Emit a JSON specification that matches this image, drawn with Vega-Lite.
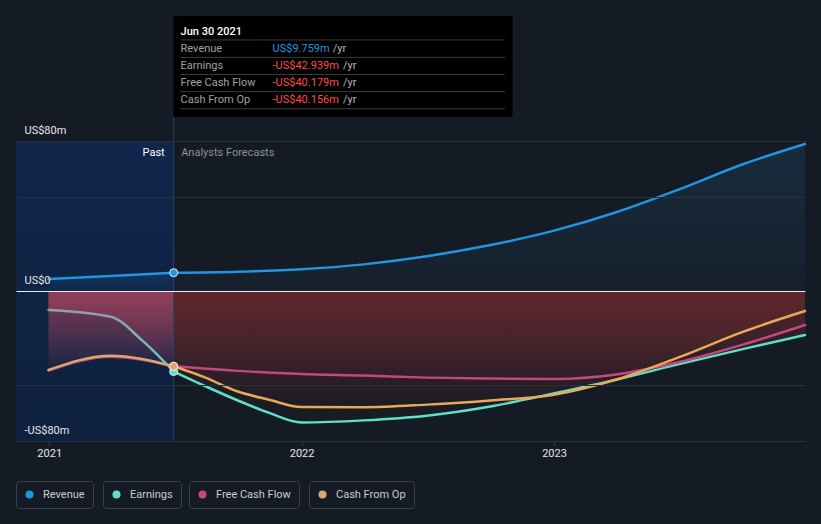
{
  "$schema": "https://vega.github.io/schema/vega-lite/v6.json",
  "width": 789,
  "height": 300,
  "autosize": "none",
  "padding": {"left": 16, "top": 141, "right": 16, "bottom": 83},
  "background": "#151b24",
  "config": {
    "view": {"stroke": null},
    "font": "Roboto",
    "legend": {
      "orient": "none",
      "direction": "horizontal",
      "padding": 8,
      "strokeColor": "#3b414b",
      "cornerRadius": 3,
      "labelColor": "#c8cbd0",
      "labelFont": "Roboto",
      "labelFontSize": 11,
      "symbolType": "circle",
      "symbolSize": 64,
      "symbolStrokeWidth": 0,
      "labelOffset": 8
    }
  },
  "datasets": {
    "series": [
      {"s": "Revenue", "p": "past", "d": "2020-12-31", "v": 6.4},
      {"s": "Revenue", "p": "past", "d": "2021-03-31", "v": 8.0},
      {"s": "Revenue", "p": "past", "d": "2021-06-30", "v": 9.759},
      {"s": "Revenue", "p": "forecast", "d": "2021-06-30", "v": 9.759},
      {"s": "Revenue", "p": "forecast", "d": "2021-10-01", "v": 10.3},
      {"s": "Revenue", "p": "forecast", "d": "2022-01-01", "v": 11.6},
      {"s": "Revenue", "p": "forecast", "d": "2022-04-01", "v": 14.2},
      {"s": "Revenue", "p": "forecast", "d": "2022-07-01", "v": 18.5},
      {"s": "Revenue", "p": "forecast", "d": "2022-10-01", "v": 24.5},
      {"s": "Revenue", "p": "forecast", "d": "2023-01-01", "v": 32.2},
      {"s": "Revenue", "p": "forecast", "d": "2023-04-01", "v": 42.0},
      {"s": "Revenue", "p": "forecast", "d": "2023-07-01", "v": 54.2},
      {"s": "Revenue", "p": "forecast", "d": "2023-10-01", "v": 67.6},
      {"s": "Revenue", "p": "forecast", "d": "2023-12-30", "v": 78.4},
      {"s": "Earnings", "p": "past", "d": "2020-12-31", "v": -10.1},
      {"s": "Earnings", "p": "past", "d": "2021-03-31", "v": -13.7},
      {"s": "Earnings", "p": "past", "d": "2021-05-15", "v": -26.2},
      {"s": "Earnings", "p": "past", "d": "2021-06-30", "v": -42.939},
      {"s": "Earnings", "p": "forecast", "d": "2021-06-30", "v": -42.939},
      {"s": "Earnings", "p": "forecast", "d": "2021-08-15", "v": -50.8},
      {"s": "Earnings", "p": "forecast", "d": "2021-10-01", "v": -58.4},
      {"s": "Earnings", "p": "forecast", "d": "2021-11-15", "v": -65.0},
      {"s": "Earnings", "p": "forecast", "d": "2022-01-01", "v": -70.1},
      {"s": "Earnings", "p": "forecast", "d": "2022-04-01", "v": -69.0},
      {"s": "Earnings", "p": "forecast", "d": "2022-07-01", "v": -66.5},
      {"s": "Earnings", "p": "forecast", "d": "2022-10-01", "v": -61.6},
      {"s": "Earnings", "p": "forecast", "d": "2023-01-01", "v": -54.6},
      {"s": "Earnings", "p": "forecast", "d": "2023-04-01", "v": -47.3},
      {"s": "Earnings", "p": "forecast", "d": "2023-07-01", "v": -39.0},
      {"s": "Earnings", "p": "forecast", "d": "2023-10-01", "v": -31.0},
      {"s": "Earnings", "p": "forecast", "d": "2023-12-30", "v": -23.5},
      {"s": "Free Cash Flow", "p": "past", "d": "2020-12-31", "v": -42.5},
      {"s": "Free Cash Flow", "p": "past", "d": "2021-03-31", "v": -35.0},
      {"s": "Free Cash Flow", "p": "past", "d": "2021-06-30", "v": -40.179},
      {"s": "Free Cash Flow", "p": "forecast", "d": "2021-06-30", "v": -40.179},
      {"s": "Free Cash Flow", "p": "forecast", "d": "2021-10-01", "v": -42.6},
      {"s": "Free Cash Flow", "p": "forecast", "d": "2022-01-01", "v": -44.3},
      {"s": "Free Cash Flow", "p": "forecast", "d": "2022-04-01", "v": -45.1},
      {"s": "Free Cash Flow", "p": "forecast", "d": "2022-07-01", "v": -46.2},
      {"s": "Free Cash Flow", "p": "forecast", "d": "2022-10-01", "v": -46.7},
      {"s": "Free Cash Flow", "p": "forecast", "d": "2023-01-01", "v": -46.9},
      {"s": "Free Cash Flow", "p": "forecast", "d": "2023-04-01", "v": -44.5},
      {"s": "Free Cash Flow", "p": "forecast", "d": "2023-07-01", "v": -37.9},
      {"s": "Free Cash Flow", "p": "forecast", "d": "2023-10-01", "v": -28.6},
      {"s": "Free Cash Flow", "p": "forecast", "d": "2023-12-30", "v": -18.1},
      {"s": "Cash From Op", "p": "past", "d": "2020-12-31", "v": -42.1},
      {"s": "Cash From Op", "p": "past", "d": "2021-03-31", "v": -34.5},
      {"s": "Cash From Op", "p": "past", "d": "2021-06-30", "v": -40.156},
      {"s": "Cash From Op", "p": "forecast", "d": "2021-06-30", "v": -40.156},
      {"s": "Cash From Op", "p": "forecast", "d": "2021-08-15", "v": -46.2},
      {"s": "Cash From Op", "p": "forecast", "d": "2021-10-01", "v": -53.6},
      {"s": "Cash From Op", "p": "forecast", "d": "2021-11-15", "v": -58.0},
      {"s": "Cash From Op", "p": "forecast", "d": "2022-01-01", "v": -61.9},
      {"s": "Cash From Op", "p": "forecast", "d": "2022-04-01", "v": -62.0},
      {"s": "Cash From Op", "p": "forecast", "d": "2022-07-01", "v": -60.6},
      {"s": "Cash From Op", "p": "forecast", "d": "2022-10-01", "v": -58.4},
      {"s": "Cash From Op", "p": "forecast", "d": "2023-01-01", "v": -55.3},
      {"s": "Cash From Op", "p": "forecast", "d": "2023-04-01", "v": -47.2},
      {"s": "Cash From Op", "p": "forecast", "d": "2023-07-01", "v": -35.3},
      {"s": "Cash From Op", "p": "forecast", "d": "2023-10-01", "v": -21.8},
      {"s": "Cash From Op", "p": "forecast", "d": "2023-12-30", "v": -10.7}
    ]
  },
  "data": {"name": "series"},
  "layer": [
    {
      "transform": [{"filter": "datum.s === 'Revenue' && datum.p === 'past' && time(datum.d) === utc(2021,5,30)"}],
      "mark": {
        "type": "rect",
        "fill": {"gradient": "linear", "x1": 0, "y1": 0, "x2": 0, "y2": 1, "stops": [{"offset": 0, "color": "#10264a"}, {"offset": 1, "color": "#0e213e"}]}
      },
      "encoding": {
        "x": {"datum": 1605312000000, "type": "temporal"},
        "x2": {"datum": 1625011200000},
        "y": {"datum": 80, "type": "quantitative"},
        "y2": {"datum": -80}
      }
    },
    {
      "transform": [{"filter": "datum.s === 'Revenue'"}],
      "mark": {
        "type": "area",
        "interpolate": "monotone",
        "opacity": 1,
        "fill": {"gradient": "linear", "x1": 0, "y1": 0, "x2": 0, "y2": 1, "stops": [{"offset": 0, "color": "rgba(35,148,223,0.14)"}, {"offset": 1, "color": "rgba(35,148,223,0.04)"}]}
      },
      "encoding": {
        "x": {
          "field": "d",
          "type": "temporal",
          "title": null,
          "scale": {"type": "utc", "domain": [1605312000000, 1703894400000]},
          "axis": {
            "values": [1609459200000, 1640995200000, 1672531200000],
            "format": "%Y",
            "formatType": "utc",
            "grid": false,
            "domainColor": "#3a414c",
            "tickColor": "#3a414c",
            "tickSize": 4,
            "labelPadding": 2,
            "labelColor": "#e6e6e6",
            "labelFont": "Roboto",
            "labelFontSize": 11,
            "labelFlush": false,
            "labelOverlap": false
          }
        },
        "y": {
          "field": "v",
          "type": "quantitative",
          "title": null,
          "scale": {"domain": [-80, 80], "nice": false, "zero": false},
          "axis": {
            "values": [-80, -50, 0, 50, 80],
            "domain": false,
            "ticks": false,
            "grid": true,
            "gridColor": {"condition": {"test": "datum.value === 0", "value": "#ececec"}, "value": "#2b313b"},
            "gridWidth": 1,
            "labelExpr": "datum.value === 0 ? 'US$0' : (datum.value === 80 ? 'US$80m' : (datum.value === -80 ? '-US$80m' : ''))",
            "labelAlign": "left",
            "labelBaseline": "alphabetic",
            "labelPadding": -8,
            "labelOffset": -8,
            "labelColor": "#e6e6e6",
            "labelFont": "Roboto",
            "labelFontSize": 11,
            "labelFlush": false,
            "labelOverlap": false,
            "labelBound": false,
            "zindex": 1
          }
        },
        "y2": {"datum": 0},
        "detail": {"field": "p"}
      }
    },
    {
      "transform": [{"filter": "datum.s !== 'Revenue' && datum.p === 'past'"}],
      "mark": {
        "type": "area",
        "interpolate": "monotone",
        "opacity": 1,
        "fill": {"gradient": "linear", "x1": 0, "y1": 0, "x2": 0, "y2": 1, "stops": [{"offset": 0, "color": "rgba(170,68,94,0.45)"}, {"offset": 1, "color": "rgba(170,68,94,0.02)"}]}
      },
      "encoding": {
        "x": {"field": "d", "type": "temporal"},
        "y": {"field": "v", "type": "quantitative"},
        "y2": {"datum": 0},
        "detail": {"field": "s"}
      }
    },
    {
      "transform": [{"filter": "datum.s !== 'Revenue' && datum.p === 'forecast'"}],
      "mark": {
        "type": "area",
        "interpolate": "monotone",
        "opacity": 1,
        "fill": {"gradient": "linear", "x1": 0, "y1": 0, "x2": 0, "y2": 1, "stops": [{"offset": 0, "color": "rgba(110,41,47,0.45)"}, {"offset": 1, "color": "rgba(110,41,47,0)"}]}
      },
      "encoding": {
        "x": {"field": "d", "type": "temporal"},
        "y": {"field": "v", "type": "quantitative"},
        "y2": {"datum": 0},
        "detail": {"field": "s"}
      }
    },
    {
      "transform": [{"filter": "datum.s === 'Revenue' && datum.p === 'past' && time(datum.d) === utc(2021,5,30)"}],
      "mark": {"type": "rule", "color": "#24446c", "strokeWidth": 1},
      "encoding": {
        "x": {"field": "d", "type": "temporal"},
        "y": {"datum": 92.8, "type": "quantitative"},
        "y2": {"datum": -80}
      }
    },
    {
      "transform": [{"filter": "datum.s === 'Revenue'"}],
      "mark": {"type": "line", "interpolate": "monotone", "color": "#2394df", "strokeWidth": 2.5, "strokeCap": "round"},
      "encoding": {
        "x": {"field": "d", "type": "temporal"},
        "y": {"field": "v", "type": "quantitative"},
        "detail": {"field": "p"}
      }
    },
    {
      "transform": [{"filter": "datum.s === 'Earnings' && datum.p === 'past'"}],
      "mark": {
        "type": "line",
        "interpolate": "monotone",
        "strokeWidth": 2.5,
        "strokeCap": "round",
        "stroke": {"gradient": "linear", "x1": 0, "y1": 0, "x2": 1, "y2": 0, "stops": [{"offset": 0, "color": "#959ca6"}, {"offset": 0.55, "color": "#8fa0ab"}, {"offset": 1, "color": "#62cdc2"}]}
      },
      "encoding": {
        "x": {"field": "d", "type": "temporal"},
        "y": {"field": "v", "type": "quantitative"}
      }
    },
    {
      "transform": [{"filter": "datum.s === 'Earnings' && datum.p === 'forecast'"}],
      "mark": {"type": "line", "interpolate": "monotone", "color": "#5ee0c8", "strokeWidth": 2.5, "strokeCap": "round"},
      "encoding": {
        "x": {"field": "d", "type": "temporal"},
        "y": {"field": "v", "type": "quantitative"}
      }
    },
    {
      "transform": [{"filter": "datum.s === 'Free Cash Flow'"}],
      "mark": {"type": "line", "interpolate": "monotone", "color": "#c4477f", "strokeWidth": 2.5, "strokeCap": "round"},
      "encoding": {
        "x": {"field": "d", "type": "temporal"},
        "y": {"field": "v", "type": "quantitative"},
        "detail": {"field": "p"}
      }
    },
    {
      "transform": [{"filter": "datum.s === 'Cash From Op' && datum.p === 'past'"}],
      "mark": {"type": "line", "interpolate": "monotone", "color": "#d9a76e", "strokeWidth": 2.5, "strokeCap": "round"},
      "encoding": {
        "x": {"field": "d", "type": "temporal"},
        "y": {"field": "v", "type": "quantitative"}
      }
    },
    {
      "transform": [{"filter": "datum.s === 'Cash From Op' && datum.p === 'forecast'"}],
      "mark": {"type": "line", "interpolate": "monotone", "color": "#e8a957", "strokeWidth": 2.5, "strokeCap": "round"},
      "encoding": {
        "x": {"field": "d", "type": "temporal"},
        "y": {"field": "v", "type": "quantitative"}
      }
    },
    {
      "transform": [{"filter": "datum.s === 'Revenue' && datum.p === 'past' && time(datum.d) === utc(2021,5,30)"}],
      "mark": {"type": "point", "filled": true, "size": 64, "opacity": 1, "stroke": "#e8eef5", "strokeWidth": 1},
      "encoding": {
        "x": {"field": "d", "type": "temporal"},
        "y": {"field": "v", "type": "quantitative"},
        "fill": {"field": "s", "type": "nominal", "scale": {"domain": ["Revenue"], "range": ["#2394df"]},
          "legend": {"title": null, "legendX": 0, "legendY": 340, "symbolFillColor": "#2394df"}}
      }
    },
    {
      "transform": [{"filter": "datum.s === 'Earnings' && datum.p === 'past' && time(datum.d) === utc(2021,5,30)"}],
      "mark": {"type": "point", "filled": true, "size": 64, "opacity": 1, "stroke": "#e8eef5", "strokeWidth": 1},
      "encoding": {
        "x": {"field": "d", "type": "temporal"},
        "y": {"field": "v", "type": "quantitative"},
        "color": {"field": "s", "type": "nominal", "scale": {"domain": ["Earnings"], "range": ["#5ee0c8"]},
          "legend": {"title": null, "legendX": 87, "legendY": 340, "symbolFillColor": "#5ee0c8"}}
      }
    },
    {
      "transform": [{"filter": "datum.s === 'Free Cash Flow' && datum.p === 'past' && time(datum.d) === utc(2021,5,30)"}],
      "mark": {"type": "point", "filled": true, "size": 64, "opacity": 1, "fill": "#c4477f", "strokeWidth": 1},
      "encoding": {
        "x": {"field": "d", "type": "temporal"},
        "y": {"field": "v", "type": "quantitative"},
        "stroke": {"field": "s", "type": "nominal", "scale": {"domain": ["Free Cash Flow"], "range": ["#e8eef5"]},
          "legend": {"title": null, "legendX": 173, "legendY": 340, "symbolFillColor": "#c4477f", "labelExpr": "datum.label + '\u00a0\u00a0'"}}
      }
    },
    {
      "transform": [{"filter": "datum.s === 'Cash From Op' && datum.p === 'past' && time(datum.d) === utc(2021,5,30)"}],
      "mark": {"type": "point", "filled": true, "size": 64, "opacity": 1, "fill": "#d9a76e", "stroke": "#e8eef5", "strokeWidth": 1},
      "encoding": {
        "x": {"field": "d", "type": "temporal"},
        "y": {"field": "v", "type": "quantitative"},
        "shape": {"field": "s", "type": "nominal", "scale": {"domain": ["Cash From Op"], "range": ["circle"]},
          "legend": {"title": null, "legendX": 293, "legendY": 340, "symbolFillColor": "#e8a957", "labelExpr": "datum.label + '\u00a0\u00a0'"}}
      }
    },
    {
      "transform": [{"filter": "datum.s === 'Revenue' && datum.p === 'past' && time(datum.d) === utc(2021,5,30)"}],
      "mark": {"type": "text", "text": "Past", "align": "right", "baseline": "middle", "dx": -9, "color": "#ffffff", "font": "Roboto", "fontSize": 11},
      "encoding": {
        "x": {"field": "d", "type": "temporal"},
        "y": {"datum": 73.6, "type": "quantitative"}
      }
    },
    {
      "transform": [{"filter": "datum.s === 'Revenue' && datum.p === 'past' && time(datum.d) === utc(2021,5,30)"}],
      "mark": {"type": "text", "text": "Analysts Forecasts", "align": "left", "baseline": "middle", "dx": 7.5, "color": "#8b9098", "font": "Roboto", "fontSize": 11},
      "encoding": {
        "x": {"field": "d", "type": "temporal"},
        "y": {"datum": 73.6, "type": "quantitative"}
      }
    },
    {
      "transform": [{"filter": "datum.s === 'Revenue' && datum.p === 'past' && time(datum.d) === utc(2021,5,30)"}],
      "mark": {"type": "rect", "fill": "#000000"},
      "encoding": {
        "x": {"field": "d", "type": "temporal"},
        "x2": {"datum": 1667347200000},
        "y": {"datum": 146.7, "type": "quantitative"},
        "y2": {"datum": 92.8}
      }
    },
    {
      "transform": [{"filter": "datum.s === 'Revenue' && datum.p === 'past' && time(datum.d) === utc(2021,5,30)"}],
      "mark": {"type": "rule", "color": "#3d3d3d", "strokeWidth": 1},
      "encoding": {
        "x": {"datum": 1625875200000, "type": "temporal"},
        "x2": {"datum": 1666396800000},
        "y": {"datum": 133.9, "type": "quantitative"}
      }
    },
    {
      "transform": [{"filter": "datum.s === 'Revenue' && datum.p === 'past' && time(datum.d) === utc(2021,5,30)"}],
      "mark": {"type": "rule", "color": "#3d3d3d", "strokeWidth": 1},
      "encoding": {
        "x": {"datum": 1625875200000, "type": "temporal"},
        "x2": {"datum": 1666396800000},
        "y": {"datum": 124.6, "type": "quantitative"}
      }
    },
    {
      "transform": [{"filter": "datum.s === 'Revenue' && datum.p === 'past' && time(datum.d) === utc(2021,5,30)"}],
      "mark": {"type": "rule", "color": "#3d3d3d", "strokeWidth": 1},
      "encoding": {
        "x": {"datum": 1625875200000, "type": "temporal"},
        "x2": {"datum": 1666396800000},
        "y": {"datum": 115.5, "type": "quantitative"}
      }
    },
    {
      "transform": [{"filter": "datum.s === 'Revenue' && datum.p === 'past' && time(datum.d) === utc(2021,5,30)"}],
      "mark": {"type": "rule", "color": "#3d3d3d", "strokeWidth": 1},
      "encoding": {
        "x": {"datum": 1625875200000, "type": "temporal"},
        "x2": {"datum": 1666396800000},
        "y": {"datum": 106.3, "type": "quantitative"}
      }
    },
    {
      "transform": [{"filter": "datum.s === 'Revenue' && datum.p === 'past' && time(datum.d) === utc(2021,5,30)"}],
      "mark": {"type": "rule", "color": "#3d3d3d", "strokeWidth": 1},
      "encoding": {
        "x": {"datum": 1625875200000, "type": "temporal"},
        "x2": {"datum": 1666396800000},
        "y": {"datum": 97.2, "type": "quantitative"}
      }
    },
    {
      "transform": [{"filter": "datum.s === 'Revenue' && datum.p === 'past' && time(datum.d) === utc(2021,5,30)"}],
      "mark": {"type": "text", "text": "Jun 30 2021", "align": "left", "baseline": "alphabetic", "color": "#ffffff", "font": "Roboto", "fontSize": 11, "fontWeight": 500},
      "encoding": {
        "x": {"datum": 1625875200000, "type": "temporal"},
        "y": {"datum": 136.5, "type": "quantitative"}
      }
    },
    {
      "transform": [{"filter": "datum.s === 'Revenue' && datum.p === 'past' && time(datum.d) === utc(2021,5,30)"}],
      "mark": {"type": "text", "text": ["Revenue", "Earnings", "Free Cash Flow", "Cash From Op"], "lineHeight": 17.1, "align": "left", "baseline": "alphabetic", "color": "#a0a0a0", "font": "Roboto", "fontSize": 11},
      "encoding": {
        "x": {"datum": 1625875200000, "type": "temporal"},
        "y": {"datum": 127.6, "type": "quantitative"}
      }
    },
    {
      "transform": [{"filter": "datum.s === 'Revenue' && datum.p === 'past' && time(datum.d) === utc(2021,5,30)"}],
      "mark": {"type": "text", "text": ["US$9.759m"], "lineHeight": 17.1, "align": "left", "baseline": "alphabetic", "color": "#2394df", "font": "Roboto", "fontSize": 11},
      "encoding": {
        "x": {"datum": 1637366400000, "type": "temporal"},
        "y": {"datum": 127.6, "type": "quantitative"}
      }
    },
    {
      "transform": [{"filter": "datum.s === 'Revenue' && datum.p === 'past' && time(datum.d) === utc(2021,5,30)"}],
      "mark": {"type": "text", "text": ["", "-US$42.939m", "-US$40.179m", "-US$40.156m"], "lineHeight": 17.1, "align": "left", "baseline": "alphabetic", "color": "#ff4a4a", "font": "Roboto", "fontSize": 11},
      "encoding": {
        "x": {"datum": 1637366400000, "type": "temporal"},
        "y": {"datum": 127.6, "type": "quantitative"}
      }
    },
    {
      "transform": [{"filter": "datum.s === 'Revenue' && datum.p === 'past' && time(datum.d) === utc(2021,5,30)"}],
      "mark": {"type": "text", "text": ["/yr"], "lineHeight": 17.1, "align": "left", "baseline": "alphabetic", "color": "#b4b4b4", "font": "Roboto", "fontSize": 11},
      "encoding": {
        "x": {"datum": 1644883200000, "type": "temporal"},
        "y": {"datum": 127.6, "type": "quantitative"}
      }
    },
    {
      "transform": [{"filter": "datum.s === 'Revenue' && datum.p === 'past' && time(datum.d) === utc(2021,5,30)"}],
      "mark": {"type": "text", "text": ["", "/yr", "/yr", "/yr"], "lineHeight": 17.1, "align": "left", "baseline": "alphabetic", "color": "#b4b4b4", "font": "Roboto", "fontSize": 11},
      "encoding": {
        "x": {"datum": 1646179200000, "type": "temporal"},
        "y": {"datum": 127.6, "type": "quantitative"}
      }
    }
  ]
}
